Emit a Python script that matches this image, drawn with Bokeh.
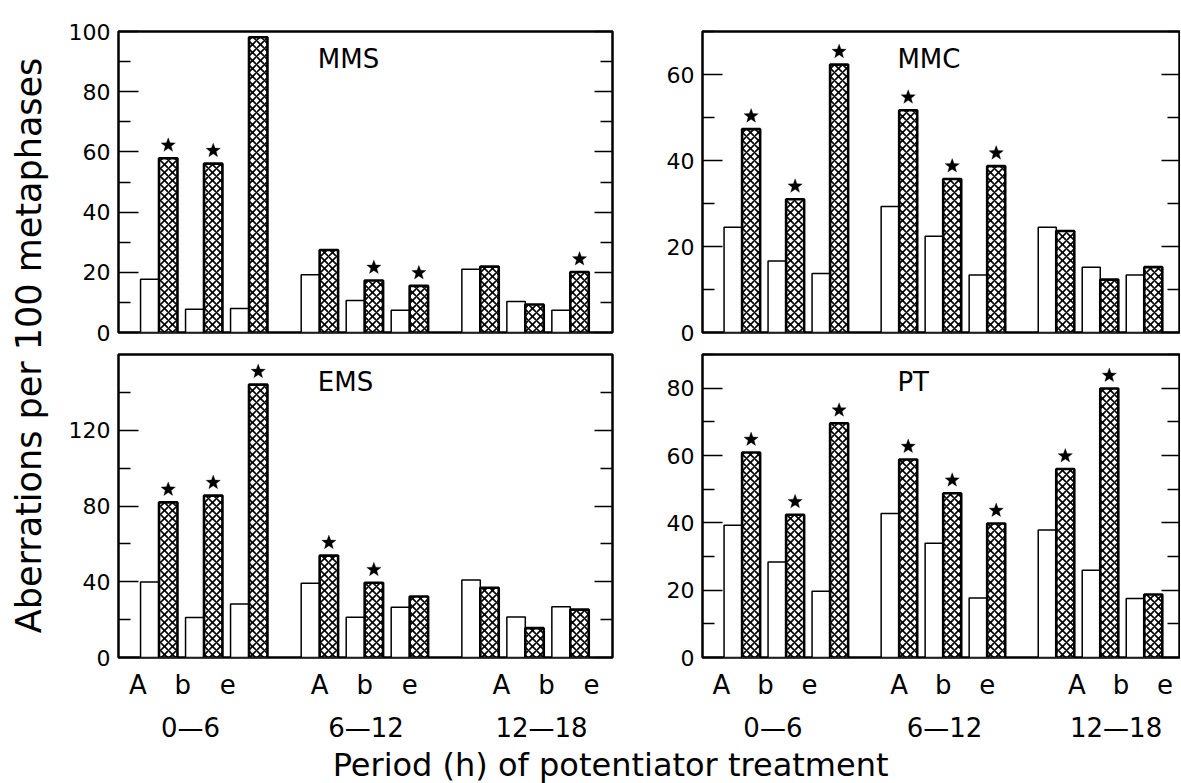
import numpy as np
from bokeh.plotting import figure
from bokeh.models import Range1d, FixedTicker, LinearAxis, CustomJSTickFormatter, Label, PolyAnnotation
from bokeh.layouts import row, column
from bokeh.embed import file_html
from bokeh.resources import INLINE
from bokeh.core.properties import value

# ---------------- data ----------------
PERIODS = ["0\u20146", "6\u201412", "12\u201418"]
GROUPS = ["A", "b", "e"]

MMS_open = [17.7, 7.7, 8.0, 19.2, 10.6, 7.4, 21.0, 10.3, 7.4]
MMS_hatch = [57.9, 56.1, 98.1, 27.4, 17.3, 15.5, 21.9, 9.3, 20.1]
MMS_star = [1, 1, 1, 0, 1, 1, 0, 0, 1]

MMC_open = [24.5, 16.6, 13.7, 29.3, 22.4, 13.4, 24.5, 15.2, 13.4]
MMC_hatch = [47.3, 31.0, 62.3, 51.7, 35.7, 38.7, 23.6, 12.3, 15.2]
MMC_star = [1, 1, 1, 1, 1, 1, 0, 0, 0]

EMS_open = [39.9, 21.1, 28.2, 39.2, 21.3, 26.5, 40.9, 21.4, 26.8]
EMS_hatch = [81.9, 85.5, 144.1, 53.8, 39.5, 32.2, 36.8, 15.5, 25.3]
EMS_star = [1, 1, 1, 1, 1, 0, 0, 0, 0]

PT_open = [39.3, 28.4, 19.7, 42.8, 33.9, 17.7, 37.9, 25.9, 17.5]
PT_hatch = [60.9, 42.4, 69.6, 58.8, 48.8, 39.8, 56.0, 79.9, 18.7]
PT_star = [1, 1, 1, 1, 1, 1, 1, 1, 0]

Y_TITLE = "Aberrations per 100 metaphases"
X_TITLE = "Period (h) of potentiator treatment"

# ---------------- layout constants ----------------
FONT = "DejaVu Sans"
PERIOD_STEP = 3.57
BAR_W = 0.41
X_START = -0.9
LABEL_SHIFT = 0.47     # A/b/e label drift per period
PLABEL_X0, PLABEL_STEP = 0.7, 3.9
STAR_GAP_PX = 13
STAR_R_PX = 7.5

centers = [p * PERIOD_STEP + g for p in range(3) for g in range(3)]
open_x = [c - BAR_W / 2 for c in centers]
hatch_x = [c + BAR_W / 2 for c in centers]
group_label_x = [p * PERIOD_STEP + g + (p - 1) * LABEL_SHIFT for p in range(3) for g in range(3)]
period_label_x = [PLABEL_X0 + p * PLABEL_STEP for p in range(3)]


def star_polygon(cx, cy, ux, uy):
    """5-point star centred on (cx, cy); ux, uy = data units per pixel."""
    xs, ys = [], []
    for k in range(10):
        r = STAR_R_PX if k % 2 == 0 else STAR_R_PX * 0.42
        a = np.pi / 2 + k * np.pi / 5
        xs.append(cx + r * np.cos(a) * ux)
        ys.append(cy + r * np.sin(a) * uy)
    return xs, ys


def panel(name, open_v, hatch_v, stars, ymax, major, minor, width, height,
          b_left, b_right, b_top, b_bottom, ppu, bottom_axes):
    frame_w = width - b_left - b_right
    frame_h = height - b_top - b_bottom
    p = figure(width=width, height=height, title=None,
               x_range=Range1d(X_START, X_START + frame_w / ppu),
               y_range=Range1d(0, ymax),
               output_backend="svg", toolbar_location=None, tools="",
               x_axis_location="below" if bottom_axes else None,
               y_axis_location="left",
               min_border_left=b_left, min_border_right=b_right,
               min_border_top=b_top, min_border_bottom=b_bottom)
    p.grid.visible = False
    p.outline_line_color = "black"
    p.outline_line_width = 2.5
    p.background_fill_color = "white"
    p.border_fill_color = "white"

    yax = p.yaxis[0]
    yax.ticker = FixedTicker(ticks=major, minor_ticks=minor)
    yax.axis_line_color = None
    yax.major_tick_in, yax.major_tick_out = 20, 0
    yax.minor_tick_in, yax.minor_tick_out = 12, 0
    yax.major_tick_line_width = 1.6
    yax.minor_tick_line_width = 1.6
    yax.major_label_text_font = FONT
    yax.major_label_text_font_size = "22px"
    yax.major_label_text_color = "black"
    yax.major_label_standoff = 8

    rax = LinearAxis(ticker=FixedTicker(ticks=major, minor_ticks=minor),
                     formatter=CustomJSTickFormatter(code="return ''"),
                     axis_line_color=None,
                     major_tick_in=18, major_tick_out=0,
                     minor_tick_in=12, minor_tick_out=0,
                     major_tick_line_width=1.6, minor_tick_line_width=1.6,
                     major_label_text_font_size="1px", major_label_standoff=0)
    p.add_layout(rax, "right")

    if bottom_axes:
        xax = p.xaxis[0]
        xax.ticker = FixedTicker(ticks=group_label_x)
        xax.formatter = CustomJSTickFormatter(args=dict(labels=GROUPS * 3),
                                              code="return labels[index]")
        xax.axis_line_color = None
        xax.major_tick_line_color = None
        xax.minor_tick_line_color = None
        xax.major_label_text_font = FONT
        xax.major_label_text_font_size = "26px"
        xax.major_label_text_color = "black"
        xax.major_label_standoff = 6

        pax = LinearAxis(ticker=FixedTicker(ticks=period_label_x),
                         formatter=CustomJSTickFormatter(args=dict(labels=PERIODS),
                                                         code="return labels[index]"),
                         axis_line_color=None, major_tick_line_color=None,
                         minor_tick_line_color=None,
                         major_label_text_font=FONT,
                         major_label_text_font_size="26px",
                         major_label_text_color="black",
                         major_label_standoff=4)
        p.add_layout(pax, "below")

    p.vbar(x=open_x, top=open_v, width=BAR_W, bottom=0,
           fill_color="white", line_color="black", line_width=1.5)
    p.vbar(x=hatch_x, top=hatch_v, width=BAR_W, bottom=0,
           fill_color="white", line_color="black", line_width=2.6,
           hatch_pattern="diagonal_cross", hatch_color="black",
           hatch_scale=8, hatch_weight=1.6)

    ux = 1.0 / ppu
    uy = ymax / frame_h
    for x, h, s in zip(hatch_x, hatch_v, stars):
        if s:
            xs, ys = star_polygon(x, h + STAR_GAP_PX * uy, ux, uy)
            p.add_layout(PolyAnnotation(xs=xs, ys=ys, fill_color="black", fill_alpha=1.0,
                                        line_color="black", line_width=1))

    p.add_layout(Label(x=3.53, y=0.91 * ymax, text=name, text_align="left",
                       text_baseline="middle", text_font=FONT,
                       text_font_size="26px", text_color="black"))
    return p


YT_W, LEFT_W, RIGHT_W = 56, 594, 530
TOP_H, BOT_H, XT_H = 346, 399, 38

mms = panel("MMS", MMS_open, MMS_hatch, MMS_star, 100,
            [0, 20, 40, 60, 80, 100], [10, 30, 50, 70, 90],
            LEFT_W, TOP_H, 62, 38, 31, 14, 45, False)
mmc = panel("MMC", MMC_open, MMC_hatch, MMC_star, 70,
            [0, 20, 40, 60], [10, 30, 50, 70],
            RIGHT_W, TOP_H, 52, 1, 31, 14, 44, False)
ems = panel("EMS", EMS_open, EMS_hatch, EMS_star, 160,
            [0, 40, 80, 120], [20, 60, 100, 140],
            LEFT_W, BOT_H, 62, 38, 8, 88, 45, True)
pt = panel("PT", PT_open, PT_hatch, PT_star, 90,
           [0, 20, 40, 60, 80], [10, 30, 50, 70, 90],
           RIGHT_W, BOT_H, 52, 1, 8, 88, 44, True)

yt = figure(width=YT_W, height=TOP_H + BOT_H, title=None,
            x_range=Range1d(0, 1), y_range=Range1d(0, 1),
            output_backend="svg", toolbar_location=None, tools="",
            x_axis_location=None, y_axis_location=None, min_border=0)
yt.outline_line_color = None
yt.grid.visible = False
yt.text(x=[0.5], y=[0.537], text=[Y_TITLE], angle=np.pi / 2,
        text_align="center", text_baseline="middle",
        text_font=value(FONT), text_font_size="35px", text_color="black")

TOTAL_W = YT_W + LEFT_W + RIGHT_W
xt = figure(width=TOTAL_W, height=XT_H, title=None,
            x_range=Range1d(0, 1), y_range=Range1d(0, 1),
            output_backend="svg", toolbar_location=None, tools="",
            x_axis_location=None, y_axis_location=None, min_border=0)
xt.outline_line_color = None
xt.grid.visible = False
xt.text(x=[0.517], y=[0.5], text=[X_TITLE], text_align="center",
        text_baseline="middle", text_font=value(FONT),
        text_font_size="32px", text_color="black")

layout = column(row(yt, column(row(mms, mmc), row(ems, pt))), xt)

open("out.html", "w").write(file_html(layout, INLINE))
